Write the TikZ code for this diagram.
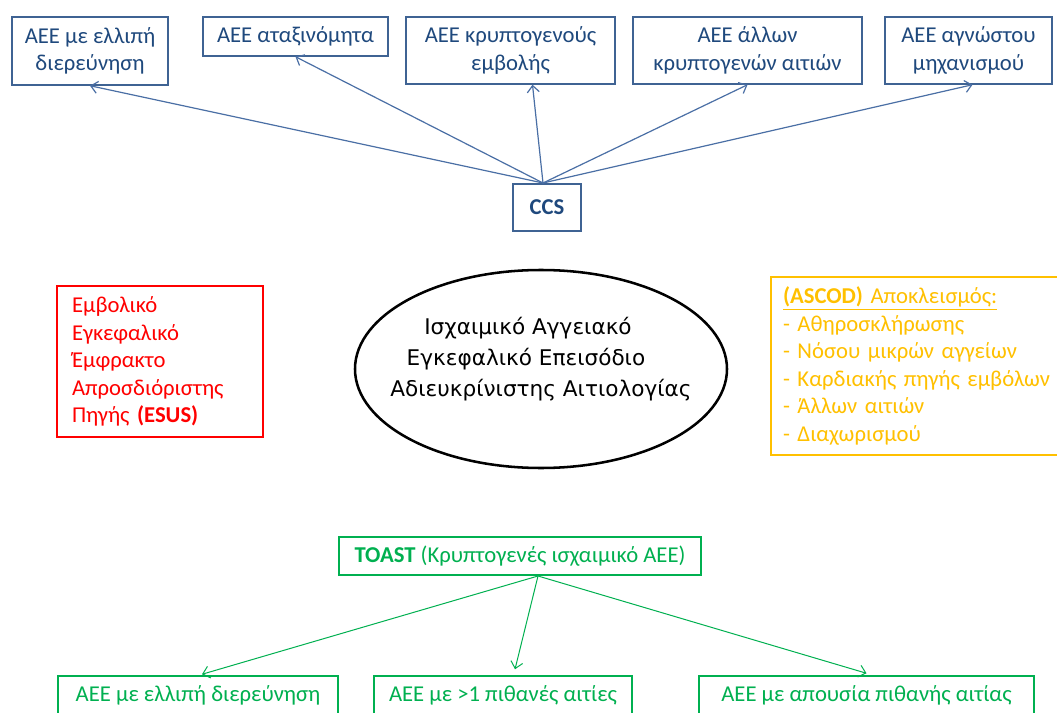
\documentclass[tikz,border=0pt]{standalone}
\usepackage{fontspec}
\setmainfont{Carlito}
\newfontfamily\dvfont{DejaVu Sans}
\usetikzlibrary{shapes.geometric,arrows.meta,calc}
\definecolor{bbord}{HTML}{3F6393}
\definecolor{btext}{HTML}{1F497D}
\definecolor{barrow}{HTML}{4A6FA5}
\definecolor{rcol}{HTML}{FF0000}
\definecolor{ocol}{HTML}{FFC000}
\definecolor{gcol}{HTML}{00B050}
\begin{document}
\begin{tikzpicture}[x=0.75pt,y=-0.75pt,
  txt/.style={font=\fontsize{17pt}{20.6pt}\selectfont},
  bluebox/.style={txt,draw=bbord,text=btext,line width=1.1pt,align=center,inner sep=0pt},
  greenbox/.style={txt,draw=gcol,text=gcol,line width=1.1pt,align=center,inner sep=0pt},
  barr/.style={draw=barrow,line width=0.9pt,-{Straight Barb[length=5pt,width=9pt]}},
  garr/.style={draw=gcol,line width=0.75pt,-{Straight Barb[length=5pt,width=9pt]}},
]
\fill[white] (0,0) rectangle (1057,713);
\path[use as bounding box, clip] (0,0) rectangle (1057,713);

% top row
\node[bluebox, minimum width=117pt, minimum height=51pt] (t1) at (90,51) {ΑΕΕ με ελλιπή\\διερεύνηση};
\node[bluebox, minimum width=138.75pt, minimum height=29.25pt] (t2) at (295.5,36.5) {ΑΕΕ αταξινόμητα};
\node[bluebox, minimum width=156.75pt, minimum height=50.25pt] (t3) at (510.5,50.5) {ΑΕΕ κρυπτογενούς\\εμβολής};
\node[bluebox, minimum width=171.75pt, minimum height=50.25pt] (t4) at (747.5,50.5) {ΑΕΕ άλλων\\κρυπτογενών αιτιών};
\node[bluebox, minimum width=125.25pt, minimum height=50.25pt] (t5) at (968.5,50.5) {ΑΕΕ αγνώστου\\μηχανισμού};

\node[bluebox, font=\fontsize{17pt}{20.6pt}\selectfont\bfseries, minimum width=51pt, minimum height=35.25pt] (ccs) at (547,207.5) {CCS};
\coordinate (cc) at (543,183);
\draw[barr] (cc) -- (t1.south);
\draw[barr] (cc) -- (t2.south);
\draw[barr] (cc) -- ($(t3.south)+(22,0)$);
\draw[barr] (cc) -- (t4.south);
\draw[barr] (cc) -- ($(t5.south)+(4,0)$);

% middle
\node[txt, draw=rcol, text=rcol, line width=1.1pt, text width=132pt, inner xsep=11.25pt, inner ysep=0pt, minimum height=113.25pt, align=left] (esus) at (160,361.5)
  {Εμβολικό\\Εγκεφαλικό\\Έμφρακτο\\Απροσδιόριστης\\Πηγής \textbf{(ESUS)}};

\node[ellipse, draw=black, line width=1.9pt, minimum width=279pt, minimum height=148.5pt, inner sep=0pt] (ell) at (541,369) {};
\node[font=\dvfont\fontsize{16.2pt}{23.25pt}\selectfont, align=center, text=black, inner sep=0pt] (etext) at (541,359)
  {Ισχαιμικό Αγγειακό\rule{19.5pt}{0pt}\\Εγκεφαλικό Επεισόδιο\rule{22.5pt}{0pt}\\Αδιευκρίνιστης Αιτιολογίας};

\node[txt, draw=ocol, text=ocol, line width=1.1pt, text width=204pt, inner xsep=9pt, inner ysep=0pt, minimum height=133.5pt, align=left] (ascod) at (919,366)
  {\underline{\textbf{(ASCOD)} Αποκλεισμός:}\\- Αθηροσκλήρωσης\\- Νόσου μικρών αγγείων\\- Καρδιακής πηγής εμβόλων\\- Άλλων αιτιών\\- Διαχωρισμού};

% bottom
\node[greenbox, minimum width=271.5pt, minimum height=28.5pt] (toast) at (520,556) {\textbf{TOAST} (Κρυπτογενές ισχαιμικό ΑΕΕ)};
\node[greenbox, minimum width=210pt, minimum height=28.5pt] (b1) at (198,695) {ΑΕΕ με ελλιπή διερεύνηση};
\node[greenbox, minimum width=193.5pt, minimum height=28.5pt] (b2) at (503,695) {ΑΕΕ με >1 πιθανές αιτίες};
\node[greenbox, minimum width=251.25pt, minimum height=28.5pt] (b3) at (866.5,695) {ΑΕΕ με απουσία πιθανής αιτίας};
\coordinate (tc) at (538,576);
\draw[garr] (tc) -- ($(b1.north)+(4,-1)$);
\draw[garr] (tc) -- ($(b2.north)+(12,-6)$);
\draw[garr] (tc) -- ($(b3.north)+(0,-2)$);
\end{tikzpicture}
\end{document}
